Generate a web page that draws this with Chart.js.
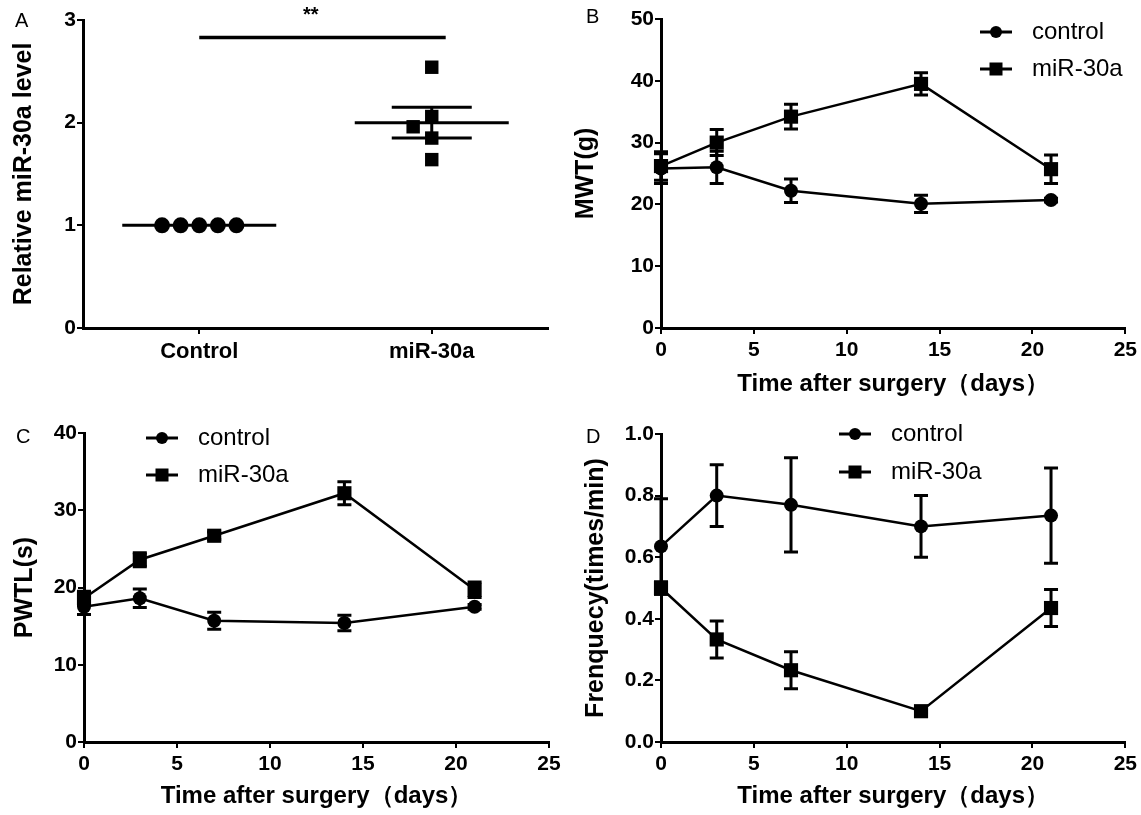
<!DOCTYPE html>
<html>
<head>
<meta charset="utf-8">
<script src="https://cdn.jsdelivr.net/npm/chart.js@4.4.0/dist/chart.umd.min.js"></script>
<style>
  body { margin: 0; background: #fff; width: 1141px; height: 815px; position: relative; overflow: hidden; }
  canvas { position: absolute; }
</style>
</head>
<body>
<canvas id="panelA" style="left:0;top:0" width="570" height="405"></canvas>
<canvas id="panelB" style="left:570px;top:0" width="571" height="405"></canvas>
<canvas id="panelC" style="left:0;top:405px" width="570" height="410"></canvas>
<canvas id="panelD" style="left:570px;top:405px" width="571" height="410"></canvas>
<script>
// ---- data ----
const groupsA = ['Control', 'miR-30a'];
const controlA = [1, 1, 1, 1, 1];
const controlAx = [0.84, 0.92, 1.0, 1.08, 1.16];
const mirA = [2.54, 2.06, 1.96, 1.85, 1.64];
const mirAx = [2.0, 2.0, 1.92, 2.0, 2.0];
const meanA = [1.0, 2.0];
const semA = [0, 0.15];
const sigA = { from: 1.0, to: 2.06, y: 2.83, text: '**', textX: 1.48, textY: 3.04 };

const days = [0, 3, 7, 14, 21];
const mwtControl = [25.8, 26.0, 22.2, 20.1, 20.7];
const mwtControlErr = [2.4, 2.6, 1.9, 1.4, 0.3];
const mwtMir = [26.2, 30.0, 34.2, 39.5, 25.7];
const mwtMirErr = [2.3, 2.1, 2.0, 1.8, 2.3];

const pwtlControl = [17.5, 18.6, 15.7, 15.4, 17.5];
const pwtlControlErr = [1.0, 1.2, 1.1, 1.0, 0.3];
const pwtlMir = [18.6, 23.6, 26.7, 32.2, 19.7];
const pwtlMirErr = [0.9, 0.9, 0.5, 1.5, 1.0];

const freqControl = [0.635, 0.80, 0.77, 0.70, 0.735];
const freqControlErr = [0.155, 0.10, 0.153, 0.10, 0.155];
const freqMir = [0.50, 0.333, 0.233, 0.10, 0.435];
const freqMirErr = [0.02, 0.06, 0.06, 0.005, 0.06];

const seriesNames = ['control', 'miR-30a'];

// ---- styles ----
const SANS = "'Liberation Sans', Arial, sans-serif";
const tickFont = { family: SANS, size: 21, weight: 'bold' };
const yTitleFont = { family: SANS, size: 25, weight: 'bold' };
const xTitleFont = { family: SANS, size: 24, weight: 'bold' };

const errorBars = {
  id: 'errorBars',
  afterDatasetsDraw(chart) {
    const ctx = chart.ctx;
    const xs = chart.scales.x, ys = chart.scales.y;
    chart.data.datasets.forEach(ds => {
      if (!ds.errors) return;
      const cap = ds.capHalf || 7;
      ctx.save();
      ctx.strokeStyle = '#000';
      ctx.lineWidth = 3;
      ds.data.forEach((p, i) => {
        const px = xs.getPixelForValue(p.x);
        const py = ys.getPixelForValue(p.y);
        if (ds.meanHalf) {
          ctx.beginPath();
          ctx.moveTo(px - ds.meanHalf, py);
          ctx.lineTo(px + ds.meanHalf, py);
          ctx.stroke();
        }
        const e = ds.errors[i];
        if (!e) return;
        const top = ys.getPixelForValue(p.y + e);
        const bot = ys.getPixelForValue(p.y - e);
        ctx.beginPath();
        ctx.moveTo(px, top); ctx.lineTo(px, bot);
        ctx.moveTo(px - cap, top); ctx.lineTo(px + cap, top);
        ctx.moveTo(px - cap, bot); ctx.lineTo(px + cap, bot);
        ctx.stroke();
      });
      ctx.restore();
    });
  }
};

const sideLegend = {
  id: 'sideLegend',
  afterDraw(chart, args, opts) {
    if (!opts || opts.x === undefined) return;
    const ctx = chart.ctx;
    let row = 0;
    chart.data.datasets.forEach(ds => {
      if (!ds.label) return;
      const y = opts.y + row * opts.gap;
      row++;
      ctx.save();
      ctx.strokeStyle = '#000';
      ctx.fillStyle = '#000';
      ctx.lineWidth = 3;
      ctx.beginPath();
      ctx.moveTo(opts.x, y); ctx.lineTo(opts.x + 32, y);
      ctx.stroke();
      const cx = opts.x + 16;
      if (ds.pointStyle === 'rect') {
        ctx.fillRect(cx - 6.5, y - 6.5, 13, 13);
      } else {
        ctx.beginPath(); ctx.arc(cx, y, 6, 0, Math.PI * 2); ctx.fill();
      }
      ctx.font = '24px ' + SANS;
      ctx.textBaseline = 'middle';
      ctx.fillText(ds.label, opts.x + 52, y);
      ctx.restore();
    });
  }
};

const panelTag = {
  id: 'panelTag',
  afterDraw(chart, args, opts) {
    const ctx = chart.ctx;
    ctx.save();
    ctx.fillStyle = '#000';
    ctx.font = '20px ' + SANS;
    ctx.textBaseline = 'alphabetic';
    ctx.fillText(opts.text, opts.x, opts.y);
    if (opts.sig) {
      const s = opts.sig;
      ctx.font = 'bold 20px ' + SANS;
      ctx.textAlign = 'center';
      ctx.textBaseline = 'middle';
      ctx.fillText(s.text, chart.scales.x.getPixelForValue(s.textX), chart.scales.y.getPixelForValue(s.textY));
    }
    ctx.restore();
  }
};

function axis(extra) {
  return Object.assign({
    type: 'linear',
    grid: { drawOnChartArea: false, color: '#000', lineWidth: 2, tickLength: 6 },
    border: { color: '#000', width: 3 }
  }, extra);
}

function series(label, xs, ys, errs, style) {
  return {
    label: label,
    data: ys.map((v, i) => ({ x: xs[i], y: v })),
    errors: errs,
    showLine: true,
    borderColor: '#000',
    backgroundColor: '#000',
    borderWidth: 2.5,
    pointStyle: style,
    pointRadius: style === 'rect' ? 10 : 7,
    pointBorderWidth: 0,
    clip: false
  };
}

function timeChart(id, cfg) {
  return new Chart(document.getElementById(id), {
    type: 'scatter',
    data: {
      datasets: [
        series(seriesNames[0], days, cfg.control, cfg.controlErr, 'circle'),
        series(seriesNames[1], days, cfg.mir, cfg.mirErr, 'rect')
      ]
    },
    options: {
      responsive: false,
      animation: false,
      events: [],
      layout: { padding: { left: 0, top: cfg.top, right: cfg.right, bottom: 0 } },
      scales: {
        x: axis({
          min: 0, max: 25,
          ticks: { font: tickFont, color: '#000', padding: 4, stepSize: 5 },
          title: { display: true, text: 'Time after surgery（days）', font: xTitleFont, color: '#000', padding: { top: 0, bottom: cfg.xTitlePad } },
          afterFit(s) { s.height = cfg.xHeight; }
        }),
        y: axis({
          min: cfg.yMin, max: cfg.yMax,
          ticks: { font: tickFont, color: '#000', padding: 1, stepSize: cfg.yStep, callback: cfg.yFormat },
          title: { display: true, text: cfg.yTitle, font: yTitleFont, color: '#000', padding: { top: cfg.yTitlePad, bottom: 0 } },
          afterFit(s) { s.width = cfg.yWidth; }
        })
      },
      plugins: {
        legend: { display: false },
        tooltip: { enabled: false },
        sideLegend: cfg.legend,
        panelTag: cfg.tag
      }
    },
    plugins: [errorBars, sideLegend, panelTag]
  });
}

// ---- panel A ----
new Chart(document.getElementById('panelA'), {
  type: 'scatter',
  data: {
    datasets: [
      {
        data: controlA.map((v, i) => ({ x: controlAx[i], y: v })),
        backgroundColor: '#000', borderColor: '#000', pointStyle: 'circle', pointRadius: 8, pointBorderWidth: 0, clip: false
      },
      {
        data: mirA.map((v, i) => ({ x: mirAx[i], y: v })),
        backgroundColor: '#000', borderColor: '#000', pointStyle: 'rect', pointRadius: 9.5, pointBorderWidth: 0, clip: false
      },
      {
        data: meanA.map((v, i) => ({ x: i + 1, y: v })),
        errors: semA, capHalf: 40, meanHalf: 77, pointRadius: 0
      },
      {
        data: [{ x: sigA.from, y: sigA.y }, { x: sigA.to, y: sigA.y }],
        showLine: true, borderColor: '#000', borderWidth: 3.5, pointRadius: 0, clip: false
      }
    ]
  },
  options: {
    responsive: false,
    animation: false,
    events: [],
    layout: { padding: { left: 0, top: 20, right: 22, bottom: 0 } },
    scales: {
      x: axis({
        min: 0.5, max: 2.5,
        afterBuildTicks(s) { s.ticks = groupsA.map((g, i) => ({ value: i + 1 })); },
        ticks: { font: { family: SANS, size: 22, weight: 'bold' }, color: '#000', padding: 5, callback: v => groupsA[v - 1] },
        afterFit(s) { s.height = 77; }
      }),
      y: axis({
        min: 0, max: 3,
        ticks: { font: tickFont, color: '#000', padding: 1, stepSize: 1 },
        title: { display: true, text: 'Relative miR-30a level', font: yTitleFont, color: '#000', padding: { top: 9, bottom: 0 } },
        afterFit(s) { s.width = 83; }
      })
    },
    plugins: {
      legend: { display: false },
      tooltip: { enabled: false },
      panelTag: { text: 'A', x: 15, y: 27, sig: sigA }
    }
  },
  plugins: [errorBars, panelTag]
});

// ---- panels B, C, D ----
timeChart('panelB', {
  control: mwtControl, controlErr: mwtControlErr, mir: mwtMir, mirErr: mwtMirErr,
  yMin: 0, yMax: 50, yStep: 10, yTitle: 'MWT(g)',
  top: 19, right: 14, xHeight: 77, yWidth: 91, xTitlePad: 6, yTitlePad: 1,
  legend: { x: 410, y: 32, gap: 37 },
  tag: { text: 'B', x: 16, y: 23 }
});

timeChart('panelC', {
  control: pwtlControl, controlErr: pwtlControlErr, mir: pwtlMir, mirErr: pwtlMirErr,
  yMin: 0, yMax: 40, yStep: 10, yTitle: 'PWTL(s)',
  top: 28, right: 21, xHeight: 73, yWidth: 84, xTitlePad: 4, yTitlePad: 10,
  legend: { x: 146, y: 33, gap: 37 },
  tag: { text: 'C', x: 16, y: 38 }
});

timeChart('panelD', {
  control: freqControl, controlErr: freqControlErr, mir: freqMir, mirErr: freqMirErr,
  yMin: 0, yMax: 1, yStep: 0.2, yTitle: 'Frenquecy(times/min)', yFormat: v => v.toFixed(1),
  top: 29, right: 14, xHeight: 73, yWidth: 91, xTitlePad: 4, yTitlePad: 11,
  legend: { x: 269, y: 29, gap: 38 },
  tag: { text: 'D', x: 16, y: 38 }
});
</script>
</body>
</html>
